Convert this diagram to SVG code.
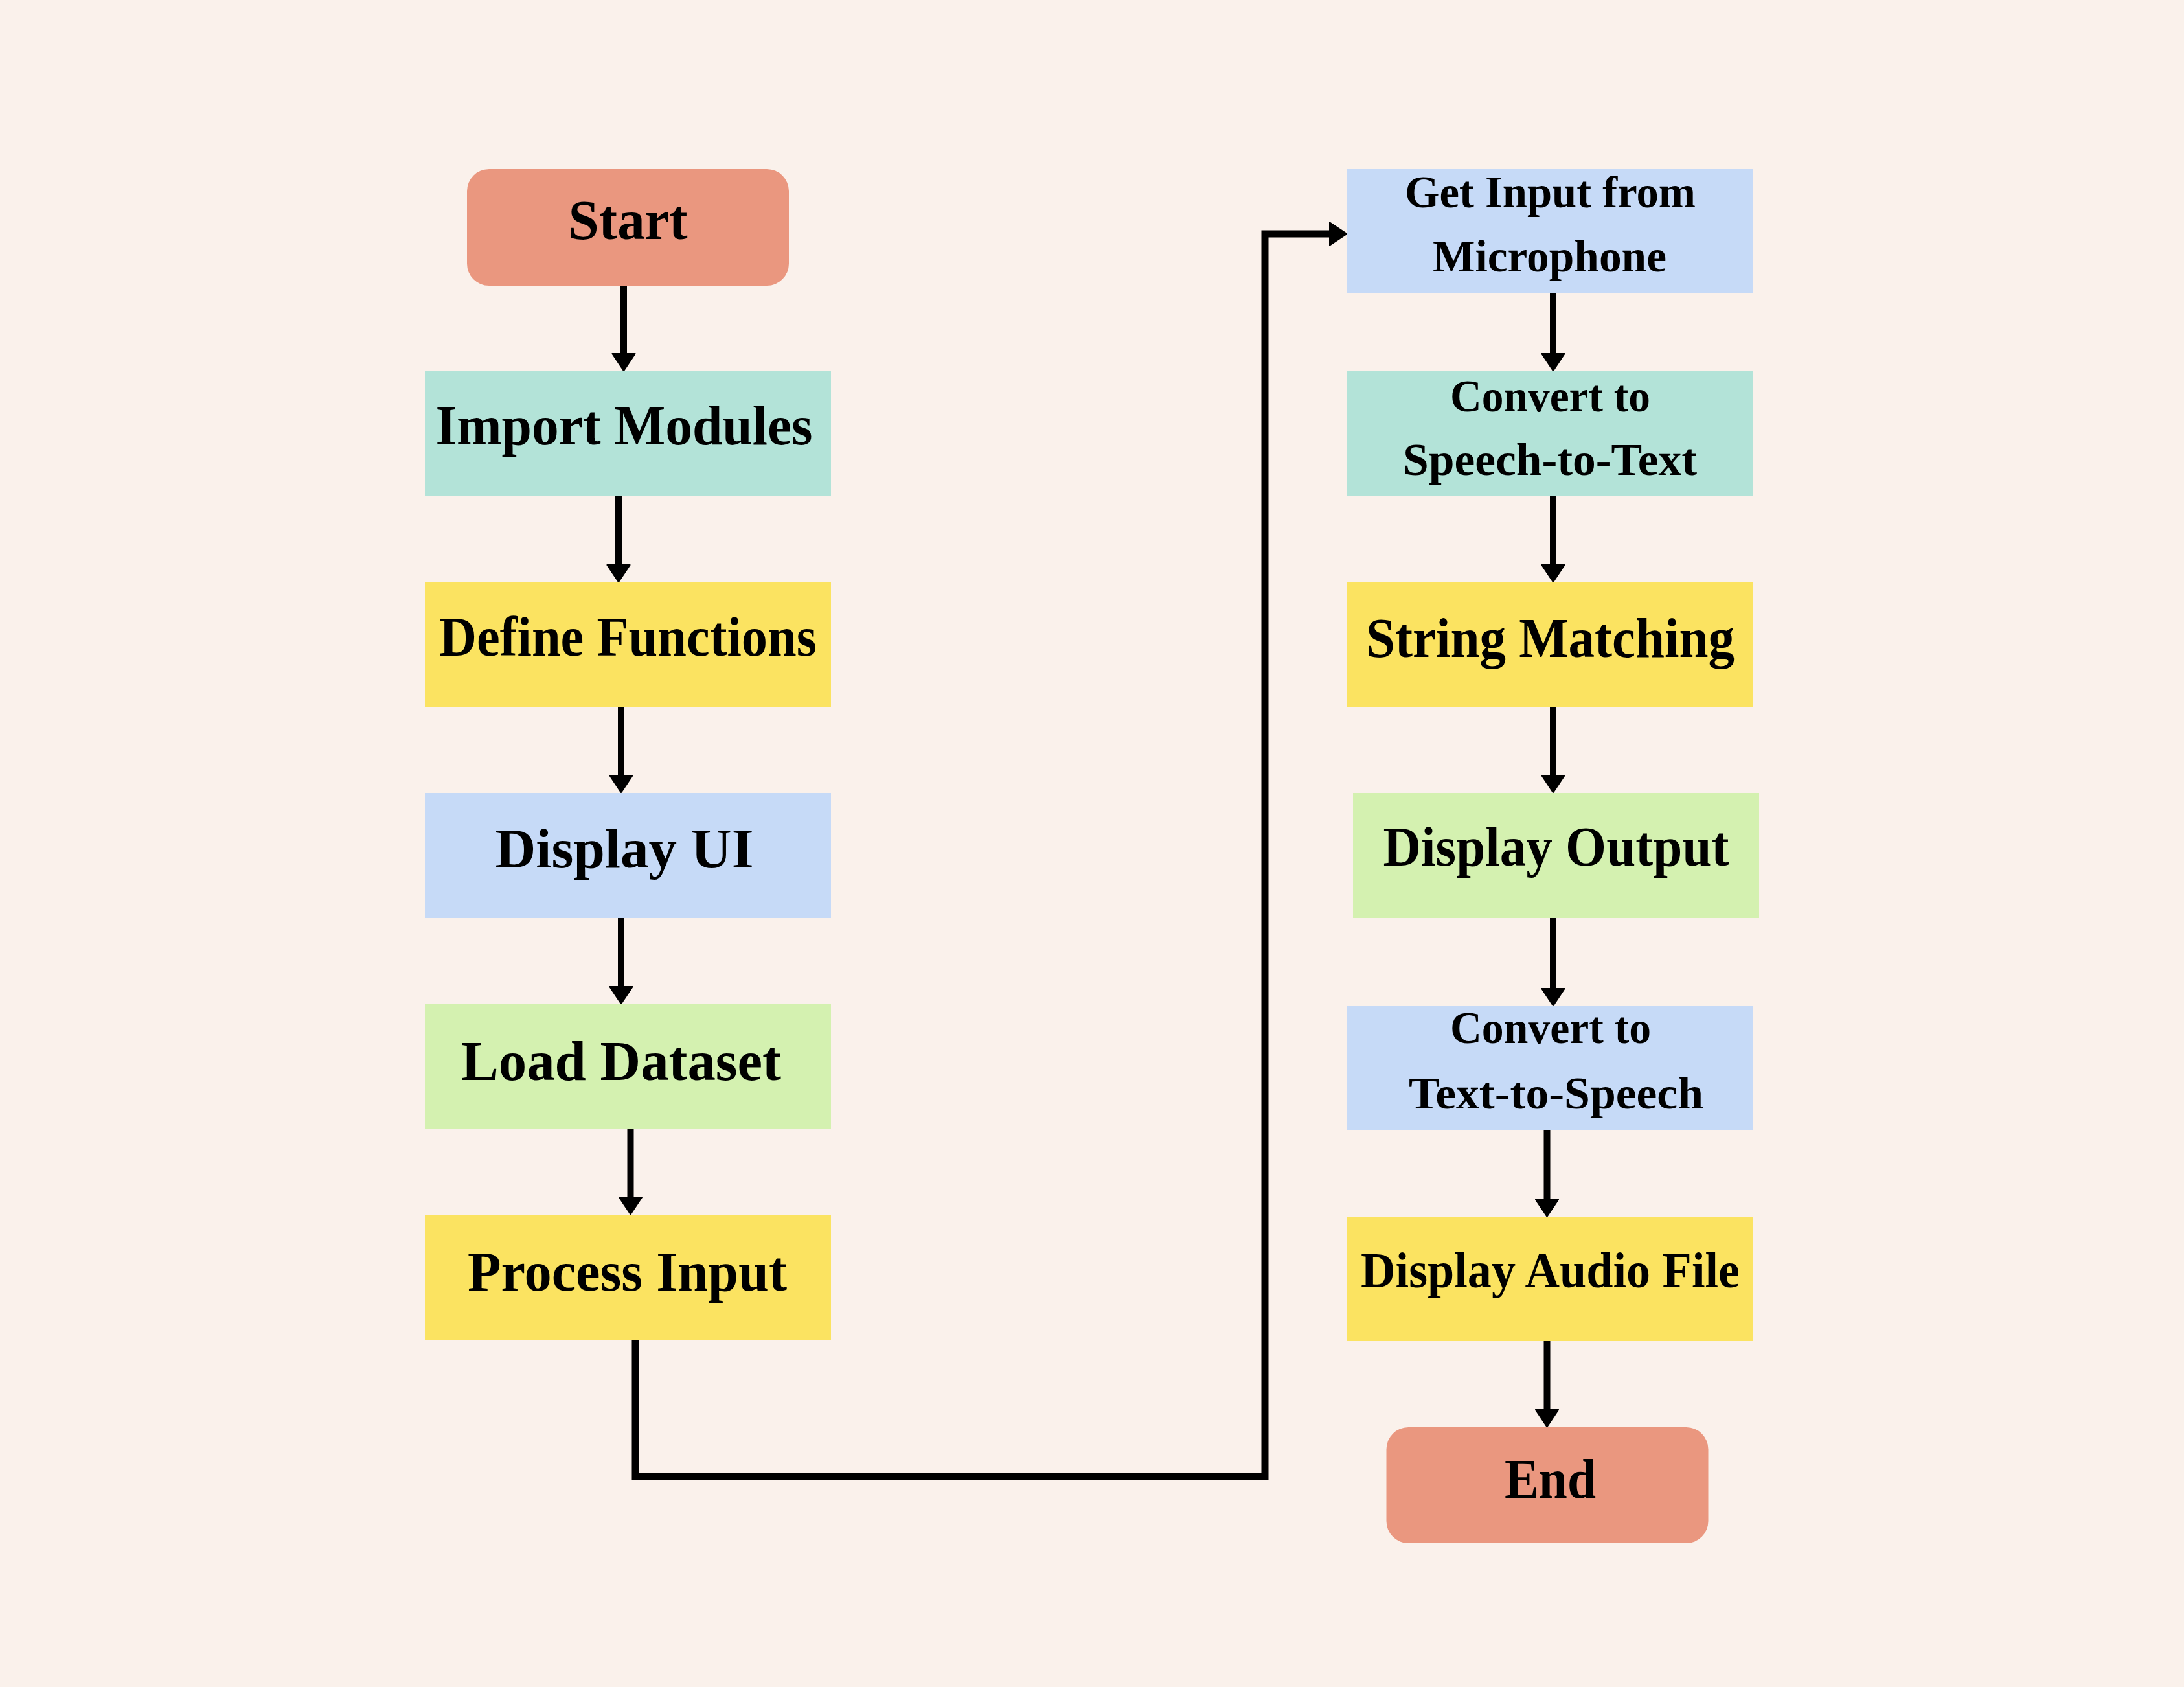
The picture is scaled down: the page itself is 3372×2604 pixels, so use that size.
<svg xmlns="http://www.w3.org/2000/svg" width="3372" height="2604" viewBox="0 0 3372 2604">
<style>
.bg{fill:#FAF1EB}
.term{fill:#EA977F}
.teal{fill:#B3E3D8}
.yel{fill:#FBE361}
.blue{fill:#C6DAF7}
.green{fill:#D4F1B0}
text{font-family:"Liberation Serif","Times New Roman",serif;font-weight:bold;fill:#000}
.big{font-size:86px}
.mid{font-size:78px}
.sm{font-size:70px}
.con{fill:none;stroke:#000;stroke-width:10}
</style>
<defs>
<marker id="ah" markerUnits="userSpaceOnUse" viewBox="0 0 30 40" markerWidth="30" markerHeight="40" refX="4" refY="20" orient="auto">
<path d="M1.5,3 L27,20 L1.5,37 Z" fill="#000" stroke="#000" stroke-width="3" stroke-linejoin="round"/>
</marker>
</defs>
<rect class="bg" x="0" y="0" width="3372" height="2604"/>
<g id="connectors">
<line class="con" x1="963" y1="441" x2="963" y2="548.5" marker-end="url(#ah)"/>
<line class="con" x1="955" y1="766" x2="955" y2="874.5" marker-end="url(#ah)"/>
<line class="con" x1="959" y1="1092" x2="959" y2="1199.5" marker-end="url(#ah)"/>
<line class="con" x1="959" y1="1417" x2="959" y2="1525.5" marker-end="url(#ah)"/>
<line class="con" x1="973.5" y1="1743" x2="973.5" y2="1850.5" marker-end="url(#ah)"/>
<polyline class="con" style="stroke-width:11" points="981,2068 981,2279 1953,2279 1953,361 2055.5,361" marker-end="url(#ah)"/>
<line class="con" x1="2398" y1="453" x2="2398" y2="548.5" marker-end="url(#ah)"/>
<line class="con" x1="2398" y1="766" x2="2398" y2="874.5" marker-end="url(#ah)"/>
<line class="con" x1="2398" y1="1092" x2="2398" y2="1199.5" marker-end="url(#ah)"/>
<line class="con" x1="2398" y1="1417" x2="2398" y2="1528.5" marker-end="url(#ah)"/>
<line class="con" x1="2388.5" y1="1745" x2="2388.5" y2="1854" marker-end="url(#ah)"/>
<line class="con" x1="2388.5" y1="2070" x2="2388.5" y2="2178.5" marker-end="url(#ah)"/>
</g>
<g id="start">
<rect class="term" x="721" y="261" width="497" height="180" rx="34" ry="34"/>
<text class="big" x="877.6" y="369" textLength="184" lengthAdjust="spacingAndGlyphs">Start</text>
</g>
<g id="import-modules">
<rect class="teal" x="656" y="573" width="627" height="193"/>
<text class="big" x="672.5" y="686" textLength="582" lengthAdjust="spacingAndGlyphs">Import Modules</text>
</g>
<g id="define-functions">
<rect class="yel" x="656" y="899" width="627" height="193"/>
<text class="big" x="678" y="1012" textLength="583" lengthAdjust="spacingAndGlyphs">Define Functions</text>
</g>
<g id="display-ui">
<rect class="blue" x="656" y="1224" width="627" height="193"/>
<text class="big" x="764.5" y="1339" textLength="399" lengthAdjust="spacingAndGlyphs">Display UI</text>
</g>
<g id="load-dataset">
<rect class="green" x="656" y="1550" width="627" height="193"/>
<text class="big" x="712" y="1667" textLength="494" lengthAdjust="spacingAndGlyphs">Load Dataset</text>
</g>
<g id="process-input">
<rect class="yel" x="656" y="1875" width="627" height="193"/>
<text class="big" x="722" y="1992" textLength="493" lengthAdjust="spacingAndGlyphs">Process Input</text>
</g>
<g id="get-input">
<rect class="blue" x="2080" y="261" width="627" height="192"/>
<text class="sm" x="2169" y="320" textLength="449" lengthAdjust="spacingAndGlyphs">Get Input from</text>
<text class="sm" x="2212" y="418.6" textLength="361" lengthAdjust="spacingAndGlyphs">Microphone</text>
</g>
<g id="speech-to-text">
<rect class="teal" x="2080" y="573" width="627" height="193"/>
<text class="sm" x="2239" y="634.6" textLength="309" lengthAdjust="spacingAndGlyphs">Convert to</text>
<text class="sm" x="2166" y="733" textLength="454" lengthAdjust="spacingAndGlyphs">Speech-to-Text</text>
</g>
<g id="string-matching">
<rect class="yel" x="2080" y="899" width="627" height="193"/>
<text class="big" x="2109" y="1014" textLength="569" lengthAdjust="spacingAndGlyphs">String Matching</text>
</g>
<g id="display-output">
<rect class="green" x="2089" y="1224" width="627" height="193"/>
<text class="big" x="2135.5" y="1335.6" textLength="534" lengthAdjust="spacingAndGlyphs">Display Output</text>
</g>
<g id="text-to-speech">
<rect class="blue" x="2080" y="1553" width="627" height="192"/>
<text class="sm" x="2239" y="1610" textLength="310" lengthAdjust="spacingAndGlyphs">Convert to</text>
<text class="sm" x="2175" y="1711" textLength="455" lengthAdjust="spacingAndGlyphs">Text-to-Speech</text>
</g>
<g id="display-audio">
<rect class="yel" x="2080" y="1878.5" width="627" height="191.5"/>
<text class="mid" x="2101" y="1987" textLength="585" lengthAdjust="spacingAndGlyphs">Display Audio File</text>
</g>
<g id="end">
<rect class="term" x="2140.5" y="2203" width="497" height="179" rx="34" ry="34"/>
<text class="big" x="2323" y="2311.6" textLength="141" lengthAdjust="spacingAndGlyphs">End</text>
</g>
</svg>
